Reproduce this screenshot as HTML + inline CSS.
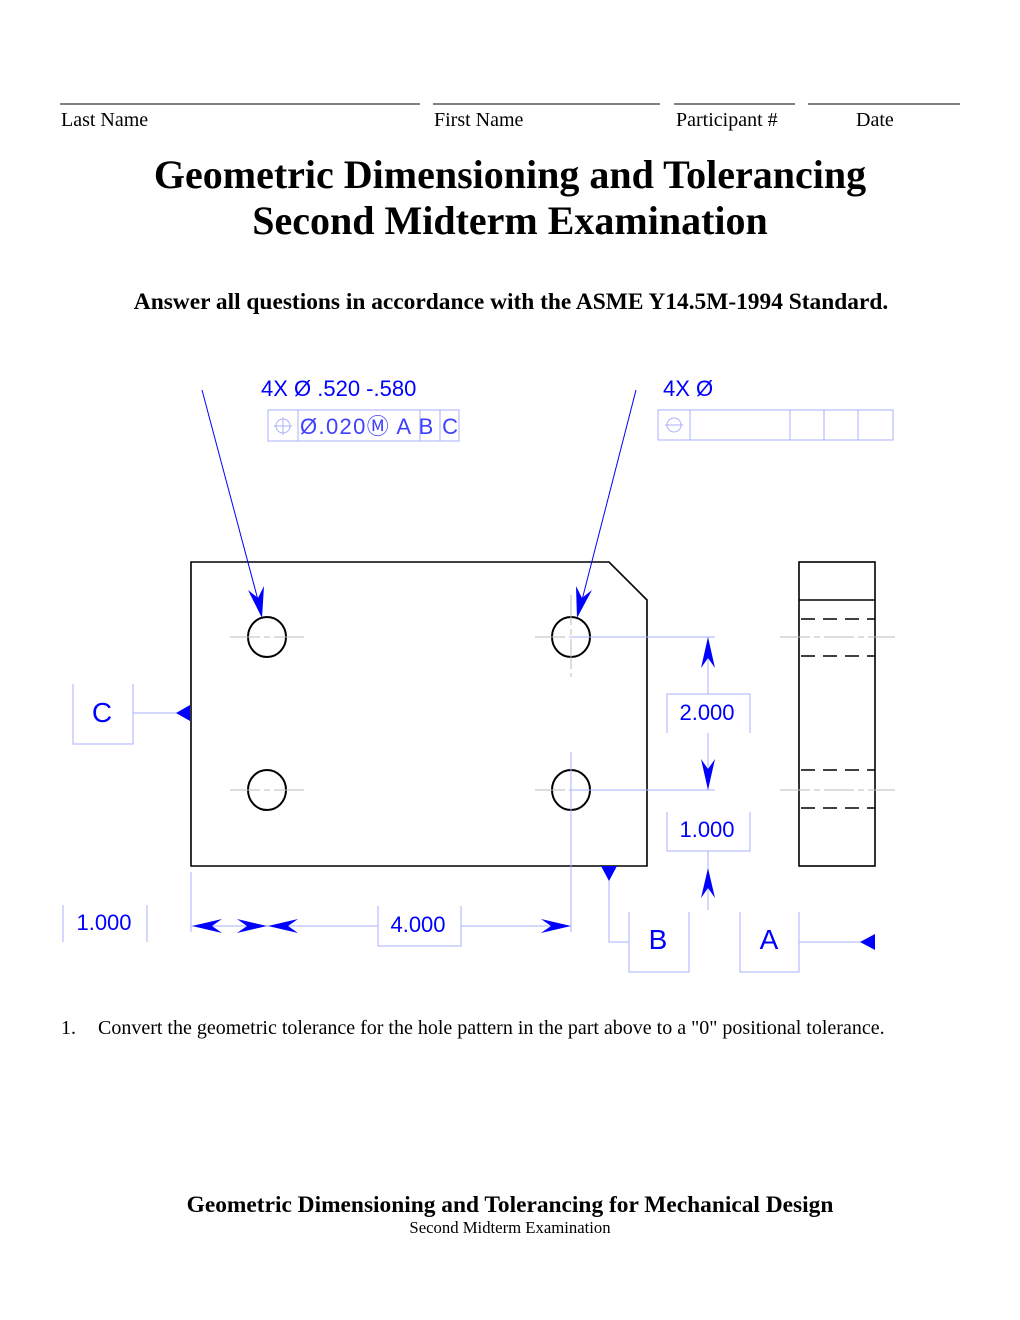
<!DOCTYPE html>
<html><head><meta charset="utf-8"><style>
body{margin:0;background:#fff}
svg{display:block}
.s{font-family:"Liberation Serif",serif}
.a{font-family:"Liberation Sans",sans-serif;fill:#0000ff}
</style></head><body>
<svg width="1020" height="1320" viewBox="0 0 1020 1320" xmlns="http://www.w3.org/2000/svg">
<g stroke="#000" stroke-width="1">
<line x1="60" y1="104" x2="420" y2="104"/><line x1="433" y1="104" x2="660" y2="104"/>
<line x1="674" y1="104" x2="795" y2="104"/><line x1="808" y1="104" x2="960" y2="104"/>
</g>
<g class="s" font-size="20">
<text x="61" y="126">Last Name</text><text x="434" y="126">First Name</text>
<text x="676" y="126">Participant #</text><text x="856" y="126">Date</text>
</g>
<g class="s" font-weight="bold" text-anchor="middle">
<text x="510" y="188" font-size="40">Geometric Dimensioning and Tolerancing</text>
<text x="510" y="234" font-size="40">Second Midterm Examination</text>
<text x="511" y="309" font-size="23.4">Answer all questions in accordance with the ASME Y14.5M-1994 Standard.</text>
</g>
<!-- part -->
<g fill="none" stroke="#000" stroke-width="2">
<path d="M191 866 V562 H609 L647 600 V866 Z" stroke-width="1.6"/>
<ellipse cx="267" cy="637" rx="19" ry="20"/><ellipse cx="571" cy="637" rx="19" ry="20"/>
<ellipse cx="267" cy="790" rx="19" ry="20"/><ellipse cx="571" cy="790" rx="19" ry="20"/>
<rect x="799" y="562" width="76" height="304" stroke-width="1.6"/>
<line x1="799" y1="600" x2="875" y2="600" stroke-width="1.5"/>
<g stroke-dasharray="14,8" stroke-width="1.5"><line x1="801" y1="619" x2="875" y2="619"/><line x1="801" y1="656" x2="875" y2="656"/><line x1="801" y1="770" x2="875" y2="770"/><line x1="801" y1="808" x2="875" y2="808"/></g>
</g>
<g stroke="#bbb" stroke-width="1" stroke-dasharray="30,4,6,4">
<line x1="230" y1="637" x2="305" y2="637"/><line x1="230" y1="790" x2="305" y2="790"/>
<line x1="535" y1="637" x2="571" y2="637"/><line x1="535" y1="790" x2="571" y2="790"/>
<line x1="571" y1="595" x2="571" y2="677"/><line x1="780" y1="637" x2="895" y2="637"/><line x1="780" y1="790" x2="895" y2="790"/>
</g>
<!-- blue annotation -->
<g stroke="#aab0ff" stroke-width="1" fill="none">
<line x1="571" y1="637" x2="715" y2="637"/><line x1="571" y1="790" x2="715" y2="790"/>
<line x1="708" y1="637" x2="708" y2="694"/><line x1="708" y1="733" x2="708" y2="790"/><line x1="708" y1="851" x2="708" y2="910"/>
<line x1="571" y1="752" x2="571" y2="932"/><line x1="191" y1="872" x2="191" y2="932"/>
<line x1="191" y1="926" x2="378" y2="926"/><line x1="461" y1="926" x2="571" y2="926"/>
<line x1="133" y1="713" x2="190" y2="713"/>
<path d="M609 866 V942 H629"/><line x1="799" y1="942" x2="875" y2="942"/>
<path d="M667 733 V694 H750 V733"/><path d="M667 812 V851 H750 V812"/>
<path d="M73 684 V744 H133 V684"/><path d="M63 905 V942 M147 905 V942"/>
<path d="M378 906 V946 H461 V906"/>
<path d="M629 912 V972 H689 V912"/><path d="M740 912 V972 H799 V912"/>
<rect x="268" y="410" width="191" height="31"/><line x1="298" y1="410" x2="298" y2="441"/><line x1="420" y1="410" x2="420" y2="441"/><line x1="440" y1="410" x2="440" y2="441"/>
<rect x="658" y="410" width="235" height="30"/><line x1="690" y1="410" x2="690" y2="440"/><line x1="790" y1="410" x2="790" y2="440"/><line x1="824" y1="410" x2="824" y2="440"/><line x1="858" y1="410" x2="858" y2="440"/>
<circle cx="283" cy="426" r="7"/><line x1="274" y1="426" x2="292" y2="426"/><line x1="283" y1="417" x2="283" y2="435"/>
<circle cx="674" cy="425" r="7"/><line x1="665" y1="425" x2="683" y2="425"/>
</g>
<g stroke="#0000ff" stroke-width="1"><line x1="202" y1="390" x2="258" y2="600"/><line x1="636" y1="390" x2="582" y2="600"/></g>
<g fill="#0000ff">
<path d="M262 618 L248 590 L258 598 L264 586 Z"/><path d="M577 618 L576 586 L582 598 L592 590 Z"/>
<path d="M708 637 L701 668 L708 658 L715 668 Z"/><path d="M708 790 L701 759 L708 769 L715 759 Z"/>
<path d="M708 868 L701 898 L708 888 L715 898 Z"/>
<path d="M192 926 L222 919 L212 926 L222 933 Z"/><path d="M267 926 L237 919 L247 926 L237 933 Z"/>
<path d="M268 926 L298 919 L288 926 L298 933 Z"/><path d="M571 926 L541 919 L551 926 L541 933 Z"/>
<path d="M190 705 L176 713 L190 721 Z"/><path d="M601 866 L609 881 L617 866 Z"/><path d="M875 934 L860 942 L875 950 Z"/>
</g>
<g class="a">
<text x="261" y="396" font-size="22">4X Ø .520 -.580</text>
<text x="663" y="396" font-size="22">4X Ø</text>
<text x="300" y="434" font-size="22" fill="#4040ff" textLength="158">Ø.020Ⓜ A B C</text>
<text x="102" y="722" font-size="28" text-anchor="middle">C</text>
<text x="707" y="720" font-size="22" text-anchor="middle">2.000</text>
<text x="707" y="837" font-size="22" text-anchor="middle">1.000</text>
<text x="104" y="930" font-size="22" text-anchor="middle">1.000</text>
<text x="418" y="932" font-size="22" text-anchor="middle">4.000</text>
<text x="658" y="949" font-size="28" text-anchor="middle">B</text>
<text x="769" y="949" font-size="28" text-anchor="middle">A</text>
</g>
<text class="s" x="61" y="1034" font-size="20">1.</text>
<text class="s" x="98" y="1034" font-size="20">Convert the geometric tolerance for the hole pattern in the part above to a "0" positional tolerance.</text>
<text class="s" x="510" y="1212" font-size="23.4" font-weight="bold" text-anchor="middle">Geometric Dimensioning and Tolerancing for Mechanical Design</text>
<text class="s" x="510" y="1233" font-size="16.7" text-anchor="middle">Second Midterm Examination</text>
</svg>
</body></html>
